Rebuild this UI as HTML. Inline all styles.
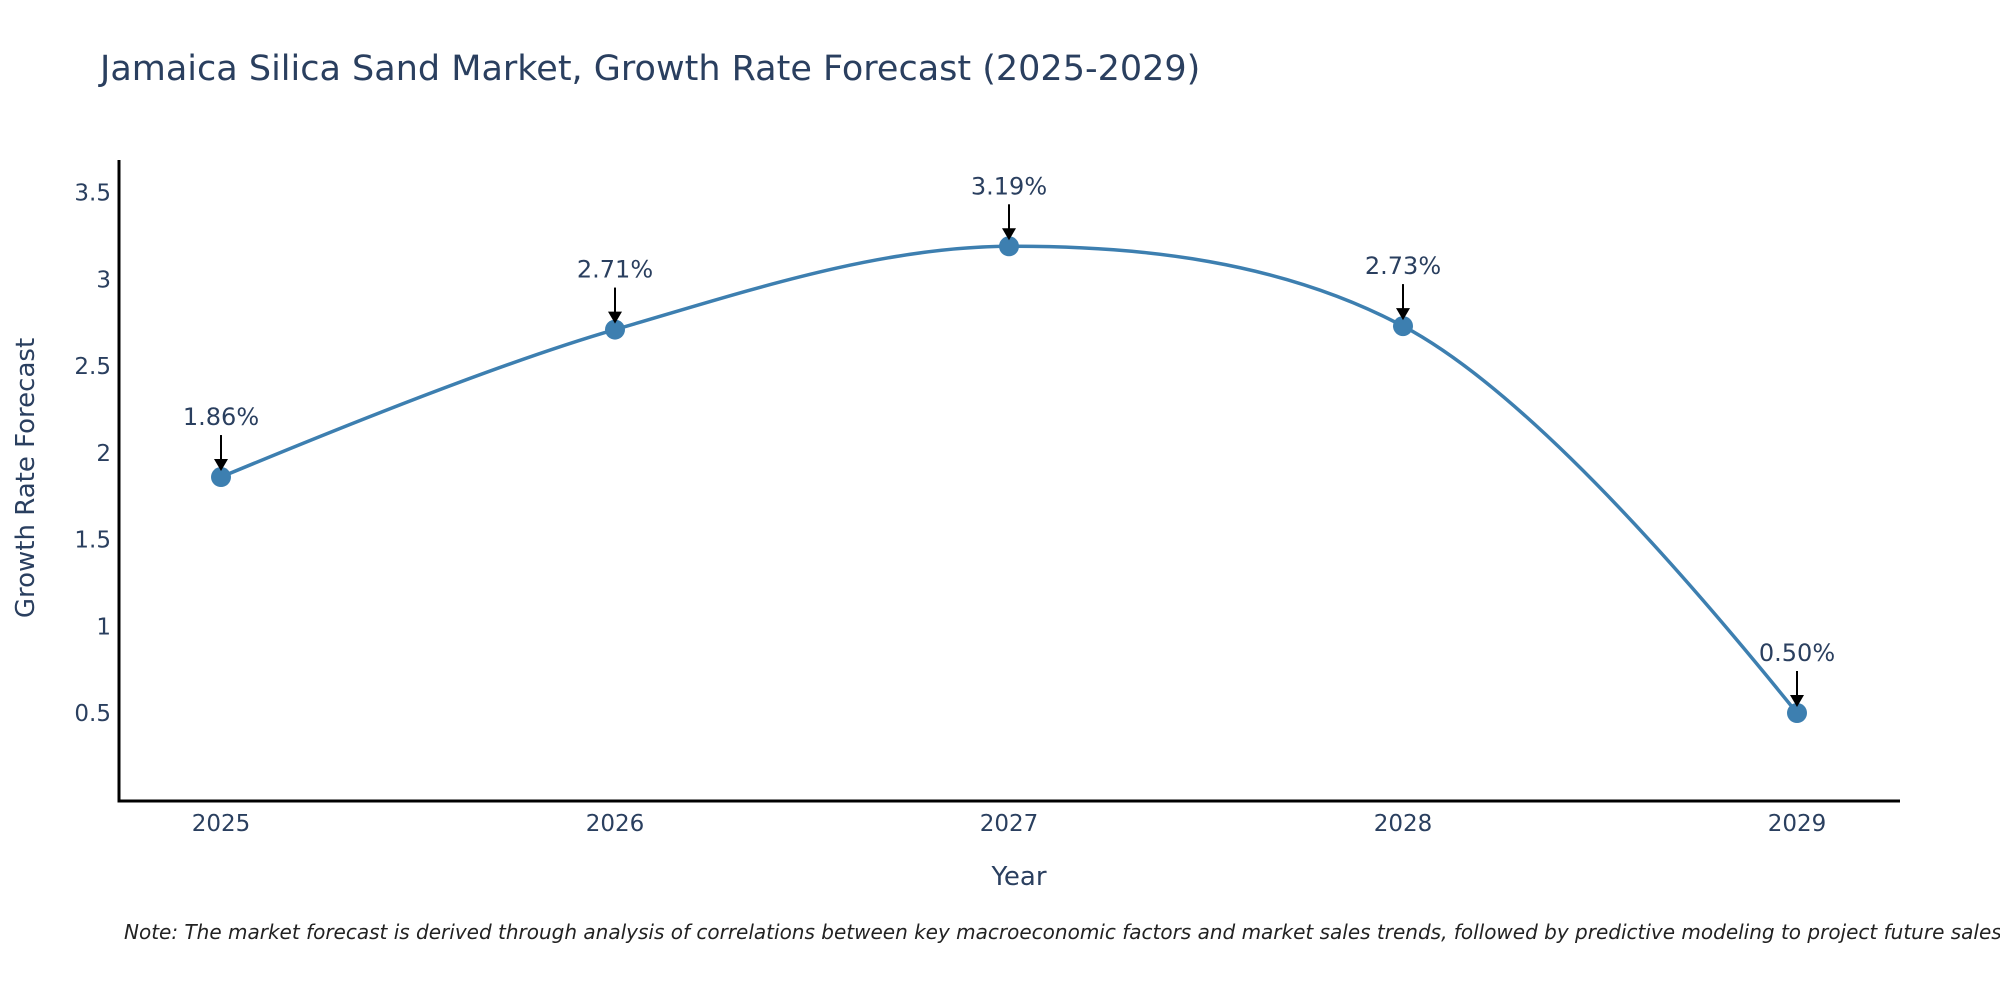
<!DOCTYPE html>
<html><head><meta charset="utf-8"><style>
html,body{margin:0;padding:0;background:#fff;}
svg{display:block;font-family:"DejaVu Sans","Liberation Sans",sans-serif;}
</style></head><body>
<svg id="chart" width="2000" height="1000" viewBox="0 0 2000 1000" xmlns="http://www.w3.org/2000/svg">
<rect width="2000" height="1000" fill="#fff"/>
<text x="100" y="80" font-size="35" fill="#2a3f5f">Jamaica Silica Sand Market, Growth Rate Forecast (2025-2029)</text>
<g id="yticks"></g>
<g id="xticks"></g>
<line x1="119" y1="160" x2="119" y2="802" stroke="#000" stroke-width="3"/>
<line x1="117.5" y1="801" x2="1900" y2="801" stroke="#000" stroke-width="3"/>
<path id="curve" fill="none" stroke="#3d7fb0" stroke-width="3.5"/>
<g id="marks"></g>
<text x="1019" y="885" font-size="26" fill="#2a3f5f" text-anchor="middle">Year</text>
<text transform="translate(34,478) rotate(-90)" font-size="26" fill="#2a3f5f" text-anchor="middle">Growth Rate Forecast</text>
<text x="124" y="939" font-size="20" font-style="italic" fill="#222">Note: The market forecast is derived through analysis of correlations between key macroeconomic factors and market sales trends, followed by predictive modeling to project future sales.</text>
</svg>
<script>
const years = ["2025","2026","2027","2028","2029"];
const values = [1.86, 2.71, 3.19, 2.73, 0.50];
const labels = ["1.86%","2.71%","3.19%","2.73%","0.50%"];
const yTicks = [0.5, 1, 1.5, 2, 2.5, 3, 3.5];
const yTickLabels = ["0.5","1","1.5","2","2.5","3","3.5"];

const NS = "http://www.w3.org/2000/svg";
function xPos(i){ return 221 + i * (1797 - 221) / 4; }
function yPos(v){ return 713 - (v - 0.5) * 173.5; }
function mk(tag, attrs, parent){
  const e = document.createElementNS(NS, tag);
  for (const k in attrs) e.setAttribute(k, attrs[k]);
  parent.appendChild(e);
  return e;
}
const yt = document.getElementById('yticks');
yTicks.forEach((v, i) => {
  const t = mk('text', {x: 111, y: yPos(v) + 8, 'font-size': 23, fill: '#2a3f5f', 'text-anchor': 'end'}, yt);
  
  
  t.textContent = yTickLabels[i];
});
const xt = document.getElementById('xticks');
years.forEach((y, i) => {
  const t = mk('text', {x: xPos(i), y: 831, 'font-size': 23, fill: '#2a3f5f', 'text-anchor': 'middle'}, xt);
  
  
  t.textContent = y;
});
// plotly-style spline
const pts = values.map((v, i) => [xPos(i), yPos(v)]);
function tangent(a, b, c){
  const dx1 = a[0]-b[0], dy1 = a[1]-b[1], dx2 = c[0]-b[0], dy2 = c[1]-b[1];
  const d1a = Math.pow(dx1*dx1+dy1*dy1, 0.25), d2a = Math.pow(dx2*dx2+dy2*dy2, 0.25);
  const numx = d2a*d2a*dx1 - d1a*d1a*dx2, numy = d2a*d2a*dy1 - d1a*d1a*dy2;
  const den1 = 3*d2a*(d1a+d2a), den2 = 3*d1a*(d1a+d2a);
  return [[b[0]+numx/den1, b[1]+numy/den1], [b[0]-numx/den2, b[1]-numy/den2]];
}
const tg = [];
for (let i = 1; i < pts.length - 1; i++) tg.push(tangent(pts[i-1], pts[i], pts[i+1]));
let d = `M${pts[0]} Q${tg[0][0]} ${pts[1]}`;
for (let i = 2; i < pts.length - 1; i++) d += ` C${tg[i-2][1]} ${tg[i-1][0]} ${pts[i]}`;
d += ` Q${tg[tg.length-1][1]} ${pts[pts.length-1]}`;
document.getElementById('curve').setAttribute('d', d);
const mg = document.getElementById('marks');
pts.forEach((p, i) => {
  const c = mk('circle', {cx: p[0], cy: p[1], r: 10, fill: '#3d7fb0'}, mg);
  
  
  const l = mk('line', {x1: p[0], y1: p[1] - 42, x2: p[0], y2: p[1] - 16, stroke: '#000', 'stroke-width': 2}, mg);
  
  
  const a = mk('path', {d: `M${p[0]-7},${p[1]-18} L${p[0]+7},${p[1]-18} L${p[0]},${p[1]-6} Z`, fill: '#000'}, mg);
  
  
  const t = mk('text', {x: p[0], y: p[1] - 52, 'font-size': 24, fill: '#2a3f5f', 'text-anchor': 'middle'}, mg);
  
  
  t.textContent = labels[i];
});
</script>
</body></html>
